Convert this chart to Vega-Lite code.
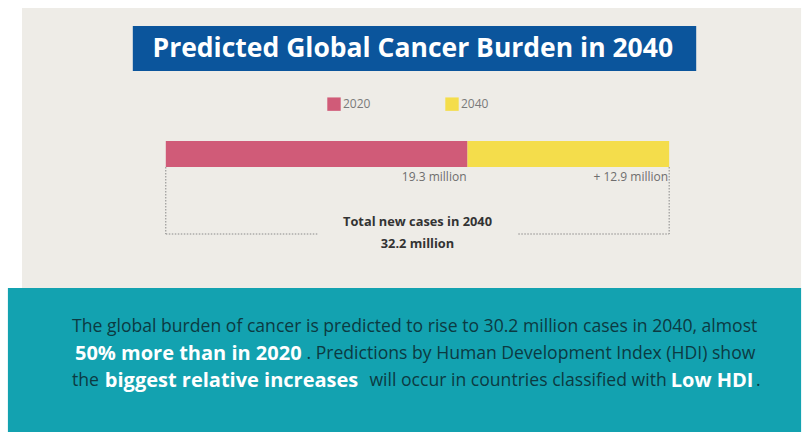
{
  "$schema": "https://vega.github.io/schema/vega-lite/v6.json",
  "width": 802,
  "height": 432,
  "autosize": {"type": "fit", "contains": "padding"},
  "padding": 0,
  "background": "#FFFFFF",
  "config": {
    "view": {"stroke": null},
    "font": "Open Sans",
    "legend": {"padding": 0}
  },
  "resolve": {"scale": {"color": "independent"}},
  "layer": [
    {
      "data": {"values": [
        {"panel": "page", "x": -9.2, "x2": 40.64, "y": 8, "y2": 288},
        {"panel": "footer", "x": -10.1, "x2": 40.64, "y": 288, "y2": 432},
        {"panel": "header", "x": -2.11, "x2": 33.93, "y": 26, "y2": 71}
      ]},
      "mark": {"type": "rect"},
      "encoding": {
        "x": {"field": "x", "type": "quantitative", "axis": null, "scale": {"domain": [-10.606, 40.634], "nice": false, "zero": false}},
        "x2": {"field": "x2"},
        "y": {"field": "y", "type": "quantitative", "axis": null, "scale": {"domain": [0, 432], "reverse": true, "nice": false, "zero": false}},
        "y2": {"field": "y2"},
        "color": {"field": "panel", "type": "nominal", "legend": null, "scale": {"domain": ["page", "footer", "header"], "range": ["#EEECE7", "#13A2B0", "#0B559C"]}}
      }
    },
    {
      "data": {"values": [{"label": "Predicted Global Cancer Burden in 2040", "x": 15.8, "y": 48.5}]},
      "mark": {"type": "text", "font": "Open Sans", "fontWeight": "bold", "fontSize": 26.5, "color": "#FFFFFF", "align": "center", "baseline": "middle"},
      "encoding": {
        "x": {"field": "x", "type": "quantitative", "axis": null, "scale": {"domain": [-10.606, 40.634], "nice": false, "zero": false}},
        "y": {"field": "y", "type": "quantitative", "axis": null, "scale": {"domain": [0, 432], "reverse": true, "nice": false, "zero": false}},
        "text": {"field": "label"}
      }
    },
    {
      "data": {"values": [
        {"year": "2020", "cases": 19.3},
        {"year": "2040", "cases": 12.9}
      ]},
      "transform": [
        {"stack": "cases", "groupby": [], "sort": [{"field": "year", "order": "ascending"}], "as": ["c0", "c1"]}
      ],
      "mark": {"type": "bar"},
      "encoding": {
        "x": {"field": "c0", "type": "quantitative", "axis": null, "scale": {"domain": [-10.606, 40.634], "nice": false, "zero": false}},
        "x2": {"field": "c1"},
        "y": {"datum": 141, "type": "quantitative", "axis": null, "scale": {"domain": [0, 432], "reverse": true, "nice": false, "zero": false}},
        "y2": {"datum": 167},
        "color": {
          "field": "year", "type": "nominal",
          "scale": {"domain": ["2020", "2040"], "range": ["#D05B78", "#F4DD4B"]},
          "legend": {
            "title": null, "orient": "none", "direction": "horizontal",
            "legendX": 327, "legendY": 97,
            "symbolType": "square", "symbolSize": 180, "symbolStrokeWidth": 0,
            "labelFontSize": 12, "labelColor": "#7A7A7A", "labelFont": "Open Sans",
            "labelOffset": 2, "columnPadding": 74
          }
        }
      }
    },
    {
      "data": {"values": [
        {"label": "19.3 million", "at": 19.3},
        {"label": "+ 12.9  million", "at": 32.2}
      ]},
      "mark": {"type": "text", "font": "Open Sans", "fontSize": 12, "color": "#6E6E6E", "align": "right", "baseline": "middle", "dx": -1},
      "encoding": {
        "x": {"field": "at", "type": "quantitative", "axis": null, "scale": {"domain": [-10.606, 40.634], "nice": false, "zero": false}},
        "y": {"datum": 177, "type": "quantitative", "axis": null, "scale": {"domain": [0, 432], "reverse": true, "nice": false, "zero": false}},
        "text": {"field": "label"}
      }
    },
    {
      "data": {"values": [
        {"x": 0, "x2": 0, "y": 167, "y2": 234},
        {"x": 32.2, "x2": 32.2, "y": 167, "y2": 234},
        {"x": 0, "x2": 9.71, "y": 234, "y2": 234},
        {"x": 22.55, "x2": 32.2, "y": 234, "y2": 234}
      ]},
      "mark": {"type": "rule", "color": "#8A8A8A", "strokeWidth": 1, "strokeDash": [1.5, 1.5]},
      "encoding": {
        "x": {"field": "x", "type": "quantitative", "axis": null, "scale": {"domain": [-10.606, 40.634], "nice": false, "zero": false}},
        "x2": {"field": "x2"},
        "y": {"field": "y", "type": "quantitative", "axis": null, "scale": {"domain": [0, 432], "reverse": true, "nice": false, "zero": false}},
        "y2": {"field": "y2"}
      }
    },
    {
      "data": {"values": [
        {"label": "Total new cases in 2040", "y": 222},
        {"label": "32.2 million", "y": 244}
      ]},
      "mark": {"type": "text", "font": "Open Sans", "fontWeight": "bold", "fontSize": 12.8, "color": "#333333", "align": "center", "baseline": "middle"},
      "encoding": {
        "x": {"datum": 16.1, "type": "quantitative", "axis": null, "scale": {"domain": [-10.606, 40.634], "nice": false, "zero": false}},
        "y": {"field": "y", "type": "quantitative", "axis": null, "scale": {"domain": [0, 432], "reverse": true, "nice": false, "zero": false}},
        "text": {"field": "label"}
      }
    },
    {
      "data": {"values": [
        {"text": "The global burden of cancer is predicted to rise to 30.2 million cases in 2040, almost", "x": -6.0, "y": 327},
        {"text": ". Predictions by Human Development Index (HDI) show", "x": 9.0, "y": 354},
        {"text": "the", "x": -6.0, "y": 381},
        {"text": "will occur in countries classified with", "x": 13.03, "y": 381},
        {"text": ".", "x": 37.75, "y": 381}
      ]},
      "mark": {"type": "text", "font": "Open Sans", "fontSize": 17.6, "color": "#0C3A42", "align": "left", "baseline": "middle"},
      "encoding": {
        "x": {"field": "x", "type": "quantitative", "axis": null, "scale": {"domain": [-10.606, 40.634], "nice": false, "zero": false}},
        "y": {"field": "y", "type": "quantitative", "axis": null, "scale": {"domain": [0, 432], "reverse": true, "nice": false, "zero": false}},
        "text": {"field": "text"}
      }
    },
    {
      "data": {"values": [
        {"text": "50% more than in 2020", "x": -5.81, "y": 354},
        {"text": "biggest relative increases", "x": -3.9, "y": 381},
        {"text": "Low HDI", "x": 32.3, "y": 381}
      ]},
      "mark": {"type": "text", "font": "Open Sans", "fontWeight": "bold", "fontSize": 20, "color": "#FFFFFF", "align": "left", "baseline": "middle"},
      "encoding": {
        "x": {"field": "x", "type": "quantitative", "axis": null, "scale": {"domain": [-10.606, 40.634], "nice": false, "zero": false}},
        "y": {"field": "y", "type": "quantitative", "axis": null, "scale": {"domain": [0, 432], "reverse": true, "nice": false, "zero": false}},
        "text": {"field": "text"}
      }
    }
  ]
}
